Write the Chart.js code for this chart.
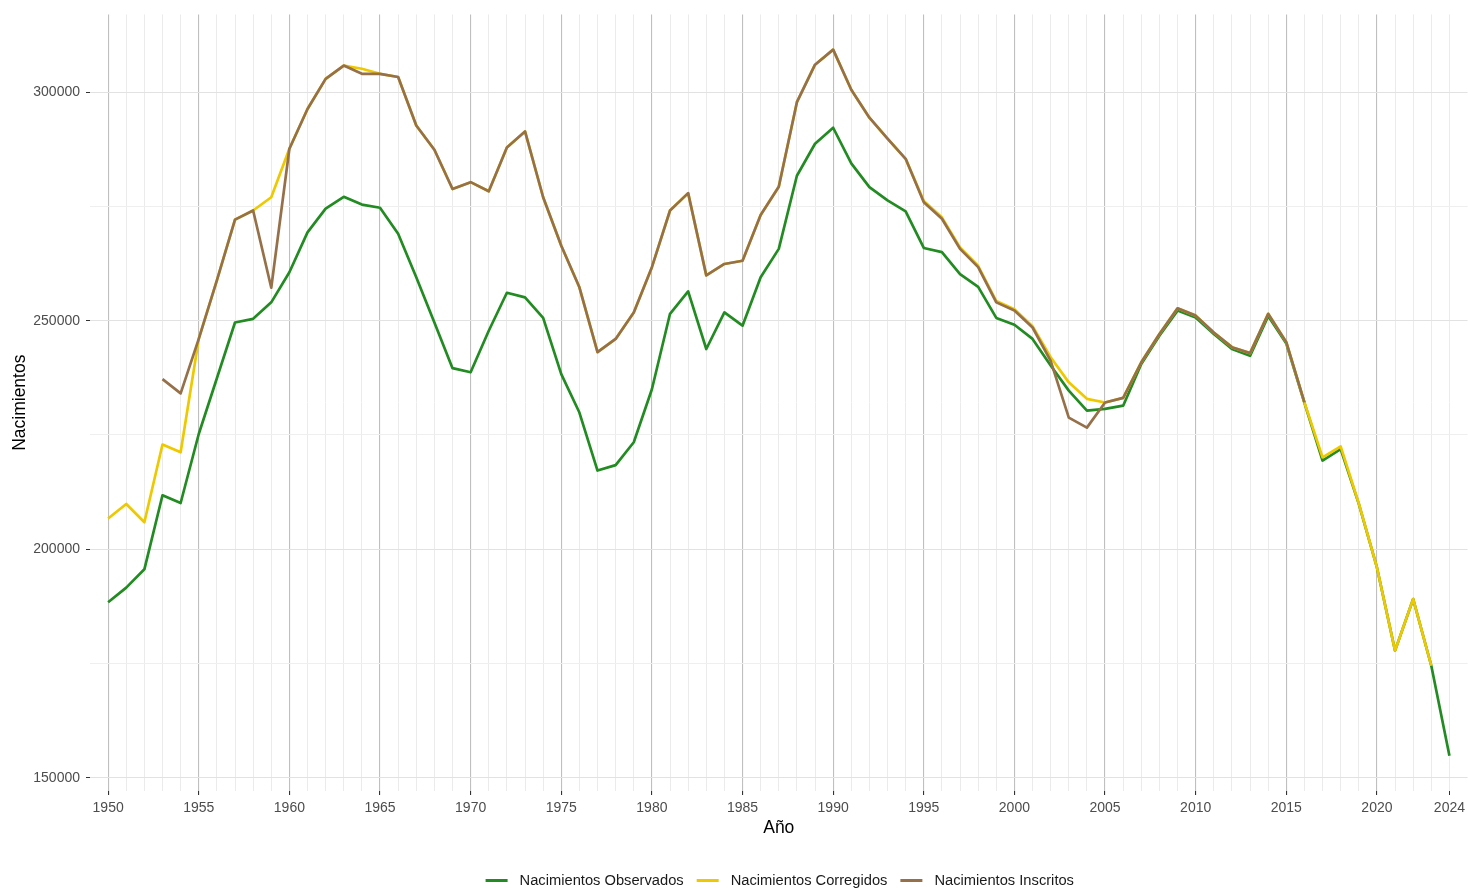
<!DOCTYPE html>
<html>
<head>
<meta charset="utf-8">
<script src="https://cdn.jsdelivr.net/npm/chart.js@4.4.1/dist/chart.umd.min.js"></script>
<style>
html,body{margin:0;padding:0;background:#ffffff;}
#wrap{width:1468px;height:888px;position:relative;}
</style>
</head>
<body>
<div id="wrap"><canvas id="c" width="1468" height="888"></canvas></div>
<script>
const years = [1950,1951,1952,1953,1954,1955,1956,1957,1958,1959,
  1960,1961,1962,1963,1964,1965,1966,1967,1968,1969,
  1970,1971,1972,1973,1974,1975,1976,1977,1978,1979,
  1980,1981,1982,1983,1984,1985,1986,1987,1988,1989,
  1990,1991,1992,1993,1994,1995,1996,1997,1998,1999,
  2000,2001,2002,2003,2004,2005,2006,2007,2008,2009,
  2010,2011,2012,2013,2014,2015,2016,2017,2018,2019,
  2020,2021,2022,2023,2024];

const observados = [188400,191600,195600,211800,210100,225200,237400,249600,250400,254000,
  260600,269300,274500,277100,275400,274700,269000,259500,249600,239600,
  238700,247800,256100,255100,250600,238300,229900,217200,218400,223400,
  235000,251500,256400,243800,251800,248900,259500,265700,281700,288700,
  292200,284400,279200,276300,273900,265900,265000,260200,257400,250600,
  249100,246000,240200,234700,230300,230700,231400,240500,246700,252200,
  250700,247100,243800,242300,251000,245000,232000,219400,221900,209900,
  196000,177800,189100,174500,154800];

const corregidos = [206700,209900,205900,222900,221200,246000,258800,272100,274100,277000,
  287600,296300,302900,305800,305100,304000,303300,292700,287400,278800,
  280300,278300,287900,291400,277000,266400,257300,243100,246000,251800,
  261700,274100,277900,259900,262400,263100,273100,279300,297800,306000,
  309300,300500,294400,289800,285400,276200,272600,266000,262000,254300,
  252500,248800,242000,236500,232900,232100,233100,240900,247100,252700,
  251100,247400,244200,242900,251500,245300,232100,220100,222500,210000,
  196000,177800,189100,174500,null];

const inscritos = [null,null,null,237200,234100,246000,258800,272100,274100,257200,
  287600,296300,302900,305800,304000,304000,303300,292700,287400,278800,
  280300,278300,287900,291400,277000,266400,257300,243100,246000,251800,
  261700,274100,277900,259900,262400,263100,273100,279300,297800,306000,
  309300,300500,294400,289800,285400,275900,272300,265700,261700,254000,
  252200,248500,241200,228800,226600,232100,233100,240900,247100,252700,
  251100,247400,244200,242900,251500,245300,232100,null,null,null,
  null,null,null,null,null];

const seriesNames = ['Nacimientos Observados','Nacimientos Corregidos','Nacimientos Inscritos'];
const seriesColors = ['#228B22','#EEC900','#967048'];

const xTickLabels = [1950,1955,1960,1965,1970,1975,1980,1985,1990,1995,2000,2005,2010,2015,2020,2024];
const xMajorGrid = [1950,1955,1960,1965,1970,1975,1980,1985,1990,1995,2000,2005,2010,2015,2020];
const yGridValues = [150000,175000,200000,225000,250000,275000,300000];
const yTickLabels = [150000,200000,250000,300000];

const xTitle = 'Año';
const yTitle = 'Nacimientos';

const FONT = '"Liberation Sans", Arial, sans-serif';

function toXY(arr){ return years.map((yr,i)=>({x:yr, y:arr[i]})); }

const decor = {
  id:'decor',
  afterDraw(chart){
    const ctx = chart.ctx;
    const ca = chart.chartArea;
    ctx.save();
    ctx.fillStyle = '#000000';
    ctx.font = '17.5px ' + FONT;
    ctx.textAlign = 'center';
    ctx.textBaseline = 'middle';
    ctx.fillText(xTitle, (ca.left+ca.right)/2, 828);
    ctx.save();
    ctx.translate(20, (ca.top+ca.bottom)/2);
    ctx.rotate(-Math.PI/2);
    ctx.fillText(yTitle, 0, 0);
    ctx.restore();

    // legend
    ctx.font = '14.7px ' + FONT;
    const sw = 22, gapText = 12, gapItem = 13;
    const widths = seriesNames.map(n=>ctx.measureText(n).width);
    let total = 0;
    widths.forEach((w,i)=>{ total += sw + gapText + w + (i<widths.length-1?gapItem:0); });
    let x = (ca.left+ca.right)/2 - total/2 + 1;
    const ly = 880.5;
    ctx.textAlign = 'left';
    ctx.textBaseline = 'middle';
    seriesNames.forEach((n,i)=>{
      ctx.strokeStyle = seriesColors[i];
      ctx.lineWidth = 3;
      ctx.beginPath();
      ctx.moveTo(x, ly); ctx.lineTo(x+sw, ly);
      ctx.stroke();
      ctx.fillStyle = '#1a1a1a';
      ctx.fillText(n, x+sw+gapText, ly);
      x += sw + gapText + widths[i] + gapItem;
    });
    ctx.restore();
  }
};

new Chart(document.getElementById('c'), {
  type:'line',
  data:{
    datasets:[
      {label:seriesNames[2], data:toXY(inscritos), borderColor:seriesColors[2], backgroundColor:seriesColors[2], order:0},
      {label:seriesNames[1], data:toXY(corregidos), borderColor:seriesColors[1], backgroundColor:seriesColors[1], order:1},
      {label:seriesNames[0], data:toXY(observados), borderColor:seriesColors[0], backgroundColor:seriesColors[0], order:2}
    ]
  },
  options:{
    responsive:false,
    animation:false,
    devicePixelRatio:1,
    layout:{padding:{top:14,left:0,right:0,bottom:0}},
    elements:{
      line:{borderWidth:2.7, tension:0, borderJoinStyle:'round', fill:false},
      point:{radius:0, hoverRadius:0}
    },
    spanGaps:false,
    plugins:{legend:{display:false}, tooltip:{enabled:false}},
    scales:{
      x:{
        type:'linear', min:1949, max:2025,
        afterBuildTicks:(s)=>{ s.ticks = years.map(v=>({value:v})); },
        afterFit:(s)=>{ s.height = 97; },
        border:{display:false},
        grid:{
          color:(c)=> xMajorGrid.includes(c.tick.value) ? '#bfbfbf' : '#ebebeb',
          lineWidth:(c)=> xMajorGrid.includes(c.tick.value) ? 1.1 : 1,
          tickColor:(c)=> xTickLabels.includes(c.tick.value) ? '#333333' : 'rgba(0,0,0,0)',
          tickLength:4, drawTicks:true
        },
        ticks:{
          autoSkip:false, maxRotation:0, minRotation:0, padding:3,
          color:'#4d4d4d', font:{family:FONT, size:14, lineHeight:1.5},
          callback:(v)=> xTickLabels.includes(v) ? String(v) : ''
        }
      },
      y:{
        type:'linear', min:147100, max:317000,
        afterBuildTicks:(s)=>{ s.ticks = yGridValues.map(v=>({value:v})); },
        afterFit:(s)=>{ s.width = 90; },
        border:{display:false},
        grid:{
          color:(c)=> yTickLabels.includes(c.tick.value) ? '#e2e2e2' : '#efefef',
          tickColor:(c)=> yTickLabels.includes(c.tick.value) ? '#333333' : 'rgba(0,0,0,0)',
          tickLength:4, drawTicks:true
        },
        ticks:{
          padding:6, color:'#4d4d4d', font:{family:FONT, size:14},
          callback:(v)=> yTickLabels.includes(v) ? String(v) : ''
        }
      }
    }
  },
  plugins:[decor]
});
</script>
</body>
</html>
